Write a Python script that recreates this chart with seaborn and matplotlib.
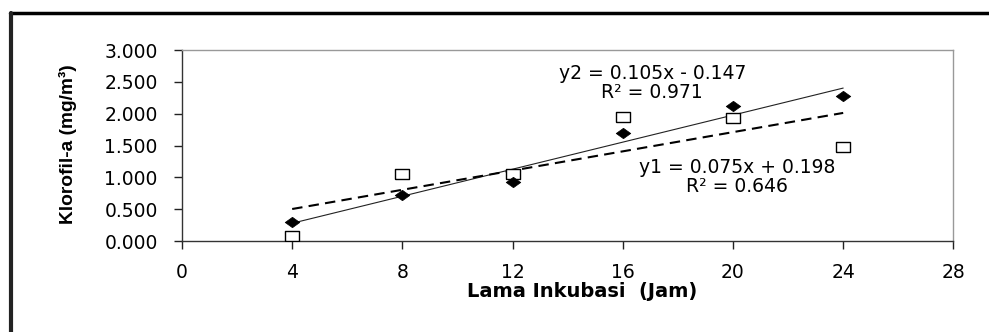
import numpy as np
import pandas as pd
import seaborn as sns
import matplotlib.pyplot as plt
from matplotlib.lines import Line2D

# data
jam = [4, 8, 12, 16, 20, 24]
klorofil_y1 = [0.08, 1.05, 1.05, 1.95, 1.94, 1.48]
klorofil_y2 = [0.30, 0.72, 0.93, 1.70, 2.12, 2.28]
eq_y1 = "y1 = 0.075x + 0.198\nR² = 0.646"
eq_y2 = "y2 = 0.105x - 0.147\nR² = 0.971"
x_ticks = [0, 4, 8, 12, 16, 20, 24, 28]
y_ticks = [0.0, 0.5, 1.0, 1.5, 2.0, 2.5, 3.0]

df = pd.DataFrame({'Jam': jam, 'y1': klorofil_y1, 'y2': klorofil_y2})

sns.set_style('white')
plt.rcParams['font.family'] = ['DejaVu Sans']
plt.rcParams['text.color'] = 'black'
plt.rcParams['axes.labelcolor'] = 'black'
plt.rcParams['xtick.color'] = 'black'
plt.rcParams['ytick.color'] = 'black'

fig = plt.figure(figsize=(9.89, 3.32), dpi=100)
ax = fig.add_axes([0.184, 0.274, 0.780, 0.575])

# trend lines
sns.regplot(data=df, x='Jam', y='y2', scatter=False, ci=None, ax=ax,
            line_kws={'color': '#222222', 'lw': 0.8})
sns.regplot(data=df, x='Jam', y='y1', scatter=False, ci=None, ax=ax,
            line_kws={'color': 'black', 'lw': 1.5, 'dashes': (5, 3)})

# points (markers a bit wider than tall, as in the original)
rect = [(-1.4, -1), (1.4, -1), (1.4, 1), (-1.4, 1), (-1.4, -1)]
diamond = [(0, 1), (1.4, 0), (0, -1), (-1.4, 0), (0, 1)]
sns.scatterplot(data=df, x='Jam', y='y1', marker=rect, s=100, facecolor='white',
                edgecolor='black', linewidth=1.0, ax=ax, zorder=3)
sns.scatterplot(data=df, x='Jam', y='y2', marker=diamond, s=110, color='black',
                edgecolor='black', linewidth=0.5, ax=ax, zorder=4)

ax.text(17.07, 2.49, eq_y2, ha='center', va='center', fontsize=13.5,
        linespacing=1.0)
ax.text(20.15, 1.0, eq_y1, ha='center', va='center', fontsize=13.5,
        linespacing=1.0)

ax.set_xlim(0, 28)
ax.set_ylim(0, 3.0)
ax.set_xticks(x_ticks)
ax.set_yticks(y_ticks)
ax.set_yticklabels([f'{v:.3f}' for v in y_ticks])
ax.tick_params(axis='both', direction='out', length=5.5, width=1, color='#222222',
               labelsize=13.5, left=True, bottom=True)
ax.tick_params(axis='y', pad=12)
ax.tick_params(axis='x', pad=10)

ax.set_xlabel('Lama Inkubasi  (Jam)', fontsize=14, fontweight='bold')
ax.xaxis.set_label_coords(0.519, -0.215)
ax.set_ylabel('Klorofil-a (mg/m³)', fontsize=13.8, fontweight='bold',
              family=['Liberation Sans', 'DejaVu Sans'])
ax.yaxis.set_label_coords(-0.136, 0.51)

for side in ['top', 'right']:
    ax.spines[side].set_color('#999999')
    ax.spines[side].set_linewidth(1.0)
for side in ['left', 'bottom']:
    ax.spines[side].set_color('#333333')
    ax.spines[side].set_linewidth(1.0)

# outer frame (only top and left edges show in the original)
fig.add_artist(Line2D([0.010, 1.0], [0.961, 0.961], transform=fig.transFigure,
                      color='black', lw=2.5))
fig.add_artist(Line2D([0.011, 0.011], [0.0, 0.961], transform=fig.transFigure,
                      color='#222222', lw=3))

fig.savefig('out.png', dpi=100)
